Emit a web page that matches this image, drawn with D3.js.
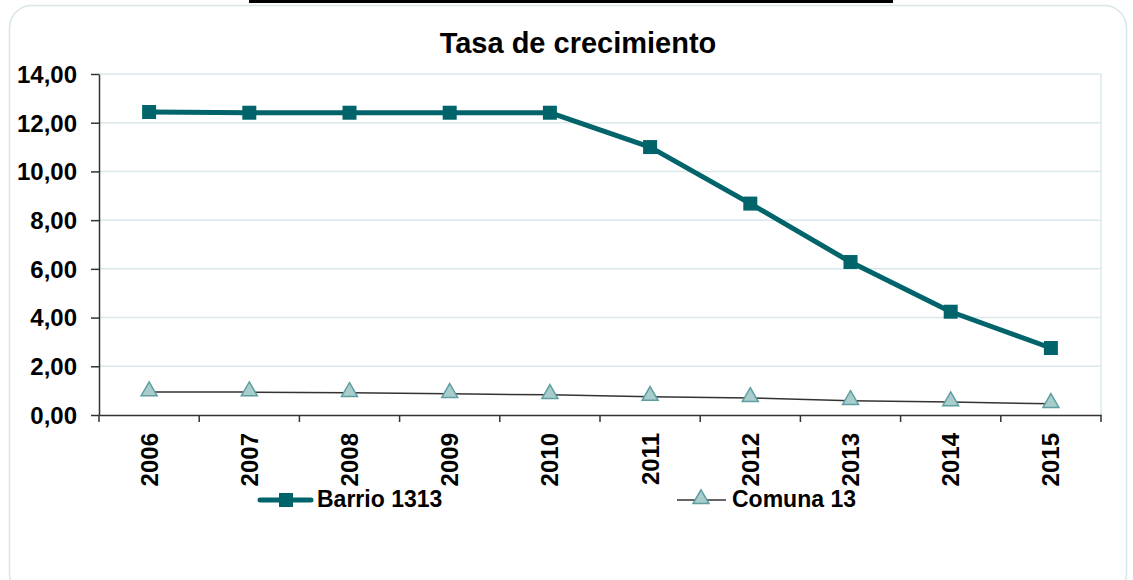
<!DOCTYPE html>
<html>
<head>
<meta charset="utf-8">
<script src="https://cdn.jsdelivr.net/npm/d3@7"></script>
<style>
  body { margin: 0; background: #fff; }
  text { font-family: "Liberation Sans", Arial, sans-serif; font-weight: bold; }
</style>
</head>
<body>
<div id="chart"></div>
<script>
const years = ['2006', '2007', '2008', '2009', '2010', '2011', '2012', '2013', '2014', '2015'];
const barrio = [12.44, 12.41, 12.41, 12.41, 12.41, 11.00, 8.68, 6.28, 4.24, 2.75];
const comuna = [0.94, 0.94, 0.91, 0.87, 0.83, 0.75, 0.70, 0.58, 0.53, 0.46];
const yTicks = [0, 2, 4, 6, 8, 10, 12, 14];

const width = 1133;
const height = 580;
const margin = { top: 74, bottom: 165, left: 99, right: 32 };

const svg = d3.select('#chart')
  .append('svg')
  .attr('width', width)
  .attr('height', height);

// black strip at top
svg.append('rect')
  .attr('x', 249).attr('y', 0)
  .attr('width', 644).attr('height', 3)
  .attr('fill', '#000');

// chart frame
svg.append('rect')
  .attr('x', 9.5).attr('y', 5.5)
  .attr('width', 1117).attr('height', 590)
  .attr('rx', 22)
  .attr('fill', '#fff')
  .attr('stroke', '#d8e6e8')
  .attr('stroke-width', 1.5);

const x = d3.scaleBand()
  .domain(years)
  .range([margin.left, width - margin.right]);

const y = d3.scaleLinear()
  .domain([0, 14])
  .range([height - margin.bottom, margin.top]);

// grid
svg.append('g')
  .selectAll('line')
  .data(yTicks.slice(1))
  .join('line')
    .attr('x1', margin.left)
    .attr('x2', width - margin.right)
    .attr('y1', d => y(d))
    .attr('y2', d => y(d))
    .attr('stroke', '#d9e8ea')
    .attr('stroke-width', 1.5);

svg.append('line')
  .attr('x1', width - margin.right).attr('x2', width - margin.right)
  .attr('y1', y(14)).attr('y2', y(0))
  .attr('stroke', '#d9e8ea').attr('stroke-width', 1.5);

const fmt = d => d.toFixed(2).replace('.', ',');

function yAxis(g) {
  g.attr('transform', `translate(${margin.left},0)`)
    .call(d3.axisLeft(y).tickValues(yTicks).tickFormat(fmt).tickSize(8).tickPadding(14).tickSizeOuter(0))
    .attr('font-size', '24px')
    .call(g => g.selectAll('line, path').attr('stroke', '#333').attr('stroke-width', 1.5))
    .call(g => g.selectAll('text').attr('fill', '#000').attr('dy', '0.35em'));
}

function xAxis(g) {
  g.attr('transform', `translate(0,${height - margin.bottom})`)
    .call(d3.axisBottom(x).tickSize(0).tickSizeOuter(0))
    .attr('font-size', '24px')
    .call(g => g.select('.domain').attr('stroke', '#333').attr('stroke-width', 1.5))
    .call(g => g.selectAll('.tick text')
      .attr('fill', '#000')
      .attr('transform', 'rotate(-90)')
      .attr('text-anchor', 'end')
      .attr('x', -18)
      .attr('y', 0)
      .attr('dy', '0.35em'));
}

svg.append('g').call(xAxis);
svg.append('g').call(yAxis);

// x ticks between categories
svg.append('g')
  .selectAll('line')
  .data(years.concat(['end']))
  .join('line')
    .attr('x1', (d, i) => margin.left + i * x.bandwidth())
    .attr('x2', (d, i) => margin.left + i * x.bandwidth())
    .attr('y1', y(0))
    .attr('y2', y(0) + 7)
    .attr('stroke', '#333')
    .attr('stroke-width', 1.5);

const cx = d => x(d) + x.bandwidth() / 2;

// Comuna 13
svg.append('path')
  .datum(comuna)
  .attr('fill', 'none')
  .attr('stroke', '#333')
  .attr('stroke-width', 1.5)
  .attr('d', d3.line().x((d, i) => cx(years[i])).y(d => y(d)));

const tri = d3.symbol().type(d3.symbolTriangle).size(110);
svg.append('g')
  .selectAll('path')
  .data(comuna)
  .join('path')
    .attr('d', tri)
    .attr('transform', (d, i) => `translate(${cx(years[i])},${y(d) - 1})`)
    .attr('fill', '#a9cdcd')
    .attr('stroke', '#5f9ea0')
    .attr('stroke-width', 1.5);

// Barrio 1313
svg.append('path')
  .datum(barrio)
  .attr('fill', 'none')
  .attr('stroke', '#00646a')
  .attr('stroke-width', 5)
  .attr('stroke-linejoin', 'round')
  .attr('d', d3.line().x((d, i) => cx(years[i])).y(d => y(d)));

svg.append('g')
  .selectAll('rect')
  .data(barrio)
  .join('rect')
    .attr('x', (d, i) => cx(years[i]) - 7)
    .attr('y', d => y(d) - 7)
    .attr('width', 14)
    .attr('height', 14)
    .attr('fill', '#00646a');

// title
svg.append('text')
  .attr('x', 578)
  .attr('y', 53)
  .attr('text-anchor', 'middle')
  .attr('font-size', '29px')
  .attr('fill', '#000')
  .text('Tasa de crecimiento');

// legend
const lg = svg.append('g');
lg.append('line')
  .attr('x1', 260).attr('x2', 311).attr('y1', 500).attr('y2', 500)
  .attr('stroke', '#00646a').attr('stroke-width', 5).attr('stroke-linecap', 'round');
lg.append('rect')
  .attr('x', 279).attr('y', 493).attr('width', 14).attr('height', 14)
  .attr('fill', '#00646a');
lg.append('text')
  .attr('x', 317).attr('y', 507)
  .attr('font-size', '23px')
  .text('Barrio 1313');

lg.append('line')
  .attr('x1', 677).attr('x2', 726).attr('y1', 500).attr('y2', 500)
  .attr('stroke', '#333').attr('stroke-width', 1.5);
lg.append('path')
  .attr('d', tri)
  .attr('transform', 'translate(701,499)')
  .attr('fill', '#a9cdcd')
  .attr('stroke', '#5f9ea0')
  .attr('stroke-width', 1.5);
lg.append('text')
  .attr('x', 732).attr('y', 507)
  .attr('font-size', '23px')
  .text('Comuna 13');
</script>
</body>
</html>
